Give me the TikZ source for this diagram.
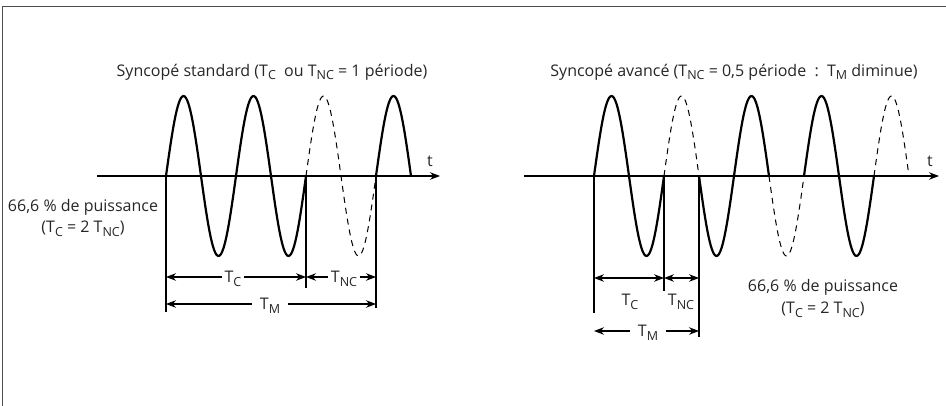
\documentclass[tikz,border=0pt]{standalone}
\usepackage{fontspec}
\setmainfont{Open Sans}
\usetikzlibrary{arrows.meta}
\newcommand\sbx[1]{\raisebox{-0.45ex}{\fontsize{12.5}{12.5}\selectfont #1}}
\begin{document}
\begin{tikzpicture}[x=1pt,y=-1pt,
  thinln/.style={line width=1.1pt},
  wave/.style={line width=2.2pt, line join=round},
  ghost/.style={line width=1pt, dash pattern=on 6pt off 5pt},
  tip/.tip={Stealth[length=10pt,width=7.5pt]},
  dimln/.style={line width=1.1pt, tip-tip},
  lbl/.style={font=\fontsize{16}{19}\selectfont, inner sep=1pt, text=black!85},
  gap/.style={lbl, fill=white, inner xsep=3pt}]
\useasboundingbox (0,0) rectangle (946,406);
% frame
\draw[line width=1pt, black!70] (2,406) -- (2,7) -- (946,7);

% ---------------- left diagram ----------------
\node[lbl] (titleL) at (272,72) {Syncopé standard (T\sbx{C}\ \ ou T\sbx{NC} = 1 période)};
\coordinate (La) at (97,176);
\coordinate (L0) at (166,176);
\coordinate (L1) at (306,176);
\coordinate (L2) at (376,176);
\coordinate (L3) at (411,176);
\coordinate (Lend) at (440,176);
\draw[thinln, -tip] (La) -- (Lend);
\node[lbl] (tL) at (430,161) {t};
\draw[wave] (La) -- (L0);
\draw[wave] (L1) -- (L2);
\draw[wave] plot[domain=166:306, samples=120, smooth] (\x, {176-80*sin((\x-166)/35*180)});
\draw[ghost] plot[domain=306:376, samples=60, smooth] (\x, {176-80*sin((\x-166)/35*180)});
\draw[wave] plot[domain=376:411, samples=40, smooth] (\x, {176-80*sin((\x-166)/35*180)});
% extension lines
\coordinate (Lv0) at (166,312);
\coordinate (Lv1) at (306,288);
\coordinate (Lv2) at (376,308);
\draw[thinln] (L0) -- (Lv0);
\draw[thinln] (L1) -- (Lv1);
\draw[thinln] (L2) -- (Lv2);
% dimensions
\coordinate (LcA) at (166,277);
\coordinate (LcB) at (306,277);
\coordinate (LcC) at (376,277);
\coordinate (LmA) at (166,304);
\coordinate (LmB) at (376,304);
\draw[dimln] (LcA) -- (LcB);
\draw[dimln] (LcB) -- (LcC);
\draw[dimln] (LmA) -- (LmB);
\node[gap] (TcL) at (233,279) {T\sbx{C}};
\node[gap] (TncL) at (344,279) {T\sbx{NC}};
\node[gap, inner xsep=8pt] (TmL) at (270,306) {T\sbx{M}};
\node[lbl] (pL1) at (83,207) {66,6 \% de puissance};
\node[lbl] (pL2) at (83,229) {(T\sbx{C} = 2 T\sbx{NC})};

% ---------------- right diagram ----------------
\node[lbl] (titleR) at (734,72) {Syncopé avancé (T\sbx{NC} = 0,5 période\ \ :\ \ T\sbx{M} diminue)};
\coordinate (Ra) at (524,176);
\coordinate (R0) at (594,176);
\coordinate (R1) at (664,176);
\coordinate (R2) at (699,176);
\coordinate (R3) at (769,176);
\coordinate (R4) at (804,176);
\coordinate (R5) at (874,176);
\coordinate (R6) at (909,176);
\coordinate (Rend) at (939,176);
\draw[thinln, -tip] (Ra) -- (Rend);
\node[lbl] (tR) at (930,161) {t};
\draw[wave] (Ra) -- (R0);
\draw[wave] (R1) -- (R2);
\draw[wave] (R3) -- (R4);
\draw[wave] (R5) -- (R6);
\draw[wave] plot[domain=594:664, samples=60, smooth] (\x, {176-80*sin((\x-594)/35*180)});
\draw[ghost] plot[domain=664:699, samples=40, smooth] (\x, {176-80*sin((\x-594)/35*180)});
\draw[wave] plot[domain=699:769, samples=60, smooth] (\x, {176-80*sin((\x-594)/35*180)});
\draw[ghost] plot[domain=769:804, samples=40, smooth] (\x, {176-80*sin((\x-594)/35*180)});
\draw[wave] plot[domain=804:874, samples=60, smooth] (\x, {176-80*sin((\x-594)/35*180)});
\draw[ghost] plot[domain=874:909, samples=40, smooth] (\x, {176-80*sin((\x-594)/35*180)});
% extension lines
\coordinate (Rv0) at (594,313);
\coordinate (Rv1) at (664,291);
\coordinate (Rv2) at (699,337);
\draw[thinln] (R0) -- (Rv0);
\draw[thinln] (R1) -- (Rv1);
\draw[thinln] (R2) -- (Rv2);
% dimensions
\coordinate (RcA) at (594,278);
\coordinate (RcB) at (664,278);
\coordinate (RcC) at (699,278);
\coordinate (RmA) at (594,331);
\coordinate (RmB) at (699,331);
\draw[dimln] (RcA) -- (RcB);
\draw[dimln] (RcB) -- (RcC);
\draw[dimln] (RmA) -- (RmB);
\node[lbl] (TcR) at (630,302) {T\sbx{C}};
\node[lbl] (TncR) at (681,302) {T\sbx{NC}};
\node[gap, inner xsep=8pt] (TmR) at (648,333) {T\sbx{M}};
\node[lbl] (pR1) at (823,287) {66,6 \% de puissance};
\node[lbl] (pR2) at (823,310) {(T\sbx{C} = 2 T\sbx{NC})};
\end{tikzpicture}
\end{document}
